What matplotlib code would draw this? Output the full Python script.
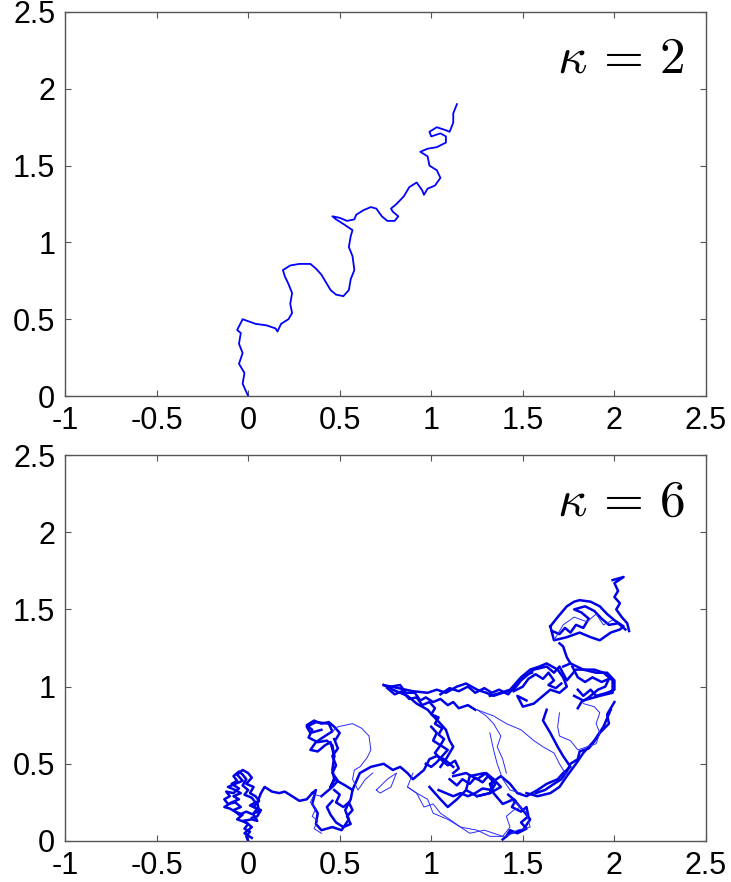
import matplotlib
matplotlib.use("Agg")
import matplotlib.pyplot as plt

# tick values and labels (matlab style)
x_ticks = [-1, -0.5, 0, 0.5, 1, 1.5, 2, 2.5]
x_labels = ['-1', '-0.5', '0', '0.5', '1', '1.5', '2', '2.5']
y_ticks = [0, 0.5, 1, 1.5, 2, 2.5]
y_labels = ['0', '0.5', '1', '1.5', '2', '2.5']

# kappa = 2 trace
k2_x = [0.00, -0.03, -0.02, -0.05, -0.03, -0.05, -0.04, -0.06, -0.03, 0.04,
        0.10, 0.15, 0.16, 0.18, 0.22, 0.24, 0.23, 0.24, 0.22, 0.20,
        0.19, 0.23, 0.28, 0.34, 0.37, 0.40, 0.43, 0.45, 0.48, 0.52,
        0.55, 0.56, 0.58, 0.57, 0.55, 0.56, 0.57, 0.52, 0.48, 0.46,
        0.50, 0.54, 0.58, 0.59, 0.63, 0.67, 0.70, 0.73, 0.76, 0.80,
        0.82, 0.79, 0.78, 0.81, 0.85, 0.88, 0.92, 0.95, 0.96, 0.98,
        1.02, 1.05, 1.03, 0.99, 0.98, 0.94, 0.98, 1.03, 1.08, 1.08,
        1.05, 1.00, 0.99, 1.03, 1.08, 1.10, 1.12, 1.12, 1.14]
k2_y = [0.00, 0.08, 0.15, 0.21, 0.28, 0.34, 0.41, 0.43, 0.50, 0.47,
        0.46, 0.44, 0.42, 0.47, 0.50, 0.54, 0.60, 0.67, 0.73, 0.78,
        0.82, 0.85, 0.86, 0.86, 0.83, 0.79, 0.73, 0.69, 0.66, 0.65,
        0.69, 0.76, 0.82, 0.91, 0.97, 1.04, 1.08, 1.12, 1.15, 1.17,
        1.16, 1.14, 1.15, 1.18, 1.21, 1.23, 1.22, 1.17, 1.14, 1.14,
        1.17, 1.20, 1.22, 1.25, 1.30, 1.36, 1.39, 1.34, 1.31, 1.35,
        1.37, 1.42, 1.47, 1.50, 1.56, 1.59, 1.61, 1.62, 1.65, 1.69,
        1.71, 1.69, 1.72, 1.75, 1.73, 1.72, 1.78, 1.84, 1.90]

# kappa = 6 trace, split in pieces (dense parts drawn thicker)
k6_left = [(0.00, 0.00), (-0.01, 0.03), (0.01, 0.06), (-0.02, 0.08), (0.00, 0.11),
           (-0.03, 0.13), (0.02, 0.14), (0.05, 0.13), (0.03, 0.17), (-0.01, 0.19),
           (-0.05, 0.17), (-0.08, 0.20), (-0.04, 0.22), (-0.07, 0.25), (-0.11, 0.24),
           (-0.13, 0.27), (-0.10, 0.29), (-0.12, 0.32), (-0.08, 0.31), (-0.05, 0.34),
           (-0.09, 0.37), (-0.06, 0.39), (-0.08, 0.42), (-0.05, 0.45), (-0.03, 0.43),
           (-0.01, 0.40), (-0.03, 0.36), (0.00, 0.33), (-0.02, 0.30), (0.02, 0.28),
           (0.04, 0.25), (0.01, 0.23), (0.05, 0.21), (0.03, 0.18), (0.06, 0.19),
           (0.05, 0.25), (0.07, 0.31), (0.09, 0.35), (0.13, 0.32), (0.17, 0.31),
           (0.20, 0.32), (0.24, 0.29), (0.28, 0.26), (0.32, 0.27), (0.35, 0.31)]
k6_left2 = [(0.02, 0.02), (-0.02, 0.05), (0.02, 0.09), (-0.01, 0.12), (-0.06, 0.14),
            (-0.03, 0.17), (-0.07, 0.19), (-0.10, 0.21), (-0.13, 0.22), (-0.09, 0.25),
            (-0.05, 0.27), (-0.08, 0.29), (-0.04, 0.31), (-0.07, 0.33), (-0.11, 0.35),
            (-0.07, 0.37), (-0.03, 0.39), (-0.06, 0.43), (-0.03, 0.46), (0.00, 0.44),
            (0.02, 0.41), (-0.01, 0.37), (0.03, 0.35), (0.01, 0.31), (0.04, 0.29),
            (0.06, 0.26), (0.03, 0.22), (0.07, 0.20), (0.05, 0.16), (0.02, 0.15)]
k6_c = [(0.35, 0.31), (0.37, 0.33), (0.35, 0.24), (0.38, 0.18), (0.37, 0.11),
        (0.40, 0.07), (0.46, 0.09), (0.51, 0.07), (0.55, 0.14), (0.53, 0.20),
        (0.56, 0.27), (0.57, 0.33), (0.53, 0.36), (0.47, 0.40), (0.45, 0.35),
        (0.47, 0.40), (0.46, 0.46), (0.47, 0.55), (0.45, 0.64), (0.42, 0.62),
        (0.38, 0.58), (0.34, 0.59), (0.37, 0.64), (0.42, 0.68), (0.46, 0.71),
        (0.44, 0.76), (0.37, 0.77), (0.32, 0.74), (0.34, 0.70), (0.40, 0.72)]
k6_c_top = [(0.47, 0.55), (0.46, 0.62), (0.43, 0.65), (0.38, 0.64), (0.33, 0.67),
            (0.35, 0.72), (0.32, 0.75), (0.36, 0.78), (0.40, 0.76), (0.44, 0.77),
            (0.47, 0.74), (0.50, 0.70), (0.48, 0.66)]
k6_c_col = [(0.47, 0.66), (0.49, 0.60), (0.46, 0.55), (0.48, 0.49), (0.46, 0.44),
            (0.49, 0.39), (0.46, 0.35), (0.43, 0.32), (0.40, 0.29)]
k6_c_low = [(0.47, 0.33), (0.50, 0.30), (0.48, 0.25), (0.52, 0.22), (0.55, 0.25),
            (0.57, 0.20), (0.54, 0.16), (0.56, 0.11), (0.52, 0.09), (0.48, 0.12),
            (0.45, 0.17), (0.43, 0.22), (0.46, 0.26)]
k6_c_thin = [(0.40, 0.29), (0.36, 0.30), (0.34, 0.25), (0.37, 0.21), (0.35, 0.16),
             (0.38, 0.13), (0.36, 0.08), (0.40, 0.05)]
k6_c_loop = [(0.46, 0.71), (0.49, 0.74), (0.57, 0.76), (0.62, 0.73), (0.66, 0.68),
             (0.67, 0.59), (0.65, 0.54), (0.61, 0.48), (0.58, 0.46), (0.57, 0.40),
             (0.60, 0.33), (0.64, 0.40), (0.68, 0.44)]
k6_strand = [(0.57, 0.33), (0.61, 0.44), (0.67, 0.48), (0.74, 0.50), (0.79, 0.46),
             (0.83, 0.48), (0.87, 0.44), (0.90, 0.40), (0.96, 0.46), (0.99, 0.53),
             (1.03, 0.55), (1.07, 0.53), (1.12, 0.48)]
k6_leaf = [(0.70, 0.33), (0.76, 0.40), (0.81, 0.44), (0.78, 0.35), (0.72, 0.31),
           (0.70, 0.33)]
k6_arm = [(0.74, 1.01), (0.79, 0.98), (0.87, 0.94), (0.92, 0.89), (0.98, 0.85),
          (1.01, 0.81), (1.05, 0.76), (1.08, 0.72), (1.10, 0.65), (1.12, 0.61),
          (1.10, 0.57), (1.08, 0.53), (1.05, 0.48)]
k6_arm2 = [(0.76, 0.99), (0.80, 0.95), (0.84, 0.97), (0.88, 0.92), (0.92, 0.93),
           (0.95, 0.88), (0.99, 0.90), (1.02, 0.86), (1.00, 0.82), (1.04, 0.80),
           (1.02, 0.76), (1.06, 0.73), (1.04, 0.69), (1.07, 0.66), (1.05, 0.62),
           (1.09, 0.59), (1.06, 0.55), (1.03, 0.51), (1.00, 0.48), (0.97, 0.50)]
k6_arm3 = [(0.78, 1.00), (0.83, 1.01), (0.86, 0.96), (0.91, 0.96), (0.94, 0.91),
           (0.97, 0.93), (1.01, 0.90), (1.05, 0.92), (1.09, 0.88), (1.12, 0.90),
           (1.15, 0.86), (1.20, 0.88), (1.24, 0.85)]
k6_center = [(1.00, 0.74), (1.03, 0.70), (1.01, 0.65), (1.05, 0.62), (1.02, 0.57),
             (1.06, 0.52), (1.09, 0.49), (1.13, 0.52), (1.15, 0.47), (1.12, 0.44)]
k6_top = [(0.74, 1.01), (0.82, 0.99), (0.90, 0.97), (0.98, 0.96), (1.03, 0.98),
          (1.08, 0.96), (1.14, 1.00), (1.19, 1.02), (1.25, 0.98), (1.30, 0.96),
          (1.34, 0.94), (1.39, 0.96), (1.45, 0.98), (1.49, 1.04), (1.56, 1.11),
          (1.63, 1.13), (1.67, 1.09), (1.70, 1.13), (1.74, 1.04), (1.79, 1.11),
          (1.89, 1.11), (1.94, 1.09), (1.99, 1.04), (1.99, 0.96), (1.92, 0.94),
          (1.83, 0.91), (1.78, 0.94)]
k6_top2 = [(1.05, 0.95), (1.10, 0.99), (1.15, 0.97), (1.20, 1.00), (1.24, 0.96),
           (1.29, 0.99), (1.33, 0.96), (1.37, 0.98), (1.42, 0.95), (1.46, 1.01),
           (1.50, 1.07), (1.55, 1.09)]
k6_low1 = [(0.87, 0.35), (0.92, 0.31), (0.96, 0.22), (1.01, 0.24), (1.05, 0.18),
           (1.10, 0.14), (1.16, 0.09), (1.21, 0.05), (1.29, 0.07), (1.34, 0.05),
           (1.39, 0.03), (1.43, 0.09), (1.41, 0.16), (1.45, 0.20), (1.49, 0.22)]
k6_low2 = [(0.90, 0.44), (0.87, 0.35), (0.92, 0.31), (0.98, 0.27), (1.01, 0.18),
           (1.09, 0.14), (1.16, 0.09), (1.25, 0.07), (1.32, 0.03), (1.41, 0.03),
           (1.47, 0.07), (1.54, 0.09), (1.52, 0.18), (1.47, 0.24), (1.43, 0.27)]
k6_low3 = [(1.42, 0.30), (1.46, 0.26), (1.44, 0.22), (1.49, 0.19), (1.52, 0.22),
           (1.53, 0.16), (1.49, 0.12), (1.52, 0.08), (1.47, 0.05), (1.43, 0.07),
           (1.41, 0.03)]
k6_mid = [(0.99, 0.35), (1.05, 0.27), (1.09, 0.22), (1.14, 0.27), (1.19, 0.33),
          (1.25, 0.29), (1.32, 0.31), (1.34, 0.40), (1.30, 0.44), (1.25, 0.40),
          (1.19, 0.44), (1.12, 0.42)]
k6_mid2 = [(1.19, 0.33), (1.21, 0.42), (1.29, 0.44), (1.34, 0.40), (1.38, 0.35),
           (1.32, 0.31), (1.25, 0.29)]
k6_mid3 = [(1.10, 0.40), (1.14, 0.36), (1.17, 0.40), (1.21, 0.37), (1.24, 0.41),
           (1.28, 0.38), (1.31, 0.42), (1.35, 0.37), (1.33, 0.33), (1.28, 0.34),
           (1.24, 0.31), (1.20, 0.29), (1.16, 0.31), (1.12, 0.29), (1.08, 0.31),
           (1.04, 0.33)]
k6_inner1 = [(1.25, 0.85), (1.34, 0.81), (1.41, 0.76), (1.49, 0.72), (1.56, 0.65),
             (1.61, 0.61), (1.67, 0.57), (1.70, 0.50), (1.74, 0.42)]
k6_inner2 = [(1.32, 0.70), (1.34, 0.59), (1.36, 0.50), (1.39, 0.40), (1.43, 0.33),
             (1.49, 0.31)]
k6_inner3 = [(1.25, 0.85), (1.30, 0.81), (1.34, 0.76), (1.38, 0.68), (1.36, 0.61),
             (1.39, 0.53), (1.41, 0.44)]
k6_down = [(1.63, 0.85), (1.61, 0.78), (1.65, 0.70), (1.69, 0.61), (1.72, 0.55),
           (1.76, 0.48), (1.72, 0.44), (1.69, 0.40), (1.63, 0.37), (1.58, 0.33),
           (1.52, 0.29), (1.47, 0.31), (1.43, 0.37), (1.38, 0.42), (1.32, 0.37),
           (1.34, 0.31), (1.39, 0.24), (1.45, 0.27), (1.50, 0.20), (1.54, 0.14),
           (1.50, 0.07), (1.43, 0.05), (1.39, 0.01)]
k6_right = [(1.98, 0.85), (1.94, 0.74), (1.89, 0.65), (1.83, 0.57), (1.79, 0.50),
            (1.74, 0.42), (1.70, 0.35), (1.65, 0.31), (1.58, 0.29), (1.52, 0.31)]
k6_right2 = [(2.00, 0.90), (1.96, 0.82), (1.97, 0.76), (1.92, 0.70), (1.90, 0.66),
             (1.86, 0.60), (1.81, 0.58), (1.80, 0.53), (1.76, 0.50), (1.74, 0.45),
             (1.71, 0.40), (1.67, 0.37), (1.62, 0.33), (1.57, 0.31)]
k6_ring = [(1.83, 0.89), (1.89, 0.87), (1.92, 0.83), (1.90, 0.76), (1.92, 0.70),
           (1.90, 0.63), (1.85, 0.61), (1.80, 0.59), (1.76, 0.65), (1.70, 0.68),
           (1.69, 0.74), (1.70, 0.83)]
k6_blob1 = [(1.32, 0.94), (1.38, 0.96), (1.43, 0.98), (1.49, 1.06), (1.54, 1.11),
            (1.59, 1.13), (1.63, 1.15), (1.69, 1.11), (1.72, 1.06), (1.74, 1.00),
            (1.70, 0.96), (1.65, 0.98), (1.61, 0.94), (1.56, 0.89), (1.50, 0.87),
            (1.47, 0.94), (1.52, 0.91)]
k6_blob1b = [(1.45, 0.97), (1.50, 1.00), (1.53, 1.05), (1.57, 1.08), (1.61, 1.05),
             (1.64, 1.09), (1.67, 1.04), (1.64, 1.01), (1.68, 0.99), (1.71, 1.02)]
k6_blob2 = [(1.76, 1.15), (1.83, 1.11), (1.90, 1.09), (1.96, 1.09), (2.00, 1.04),
            (2.00, 0.98), (1.96, 0.96), (1.90, 0.94), (1.87, 0.98), (1.83, 0.94),
            (1.80, 0.98)]
k6_blob2b = [(1.77, 1.13), (1.80, 1.06), (1.84, 1.03), (1.88, 1.06), (1.93, 1.03),
             (1.97, 1.05), (1.95, 1.00), (1.91, 0.98), (1.86, 0.93), (1.82, 0.90),
             (1.80, 0.86)]
k6_stem = [(1.70, 1.28), (1.72, 1.26), (1.74, 1.19), (1.76, 1.15), (1.72, 1.13)]
k6_crown = [(1.65, 1.39), (1.69, 1.45), (1.74, 1.52), (1.78, 1.55), (1.81, 1.56),
            (1.87, 1.55), (1.92, 1.52), (1.96, 1.47), (2.00, 1.43), (2.05, 1.39),
            (2.03, 1.37), (1.98, 1.35), (1.92, 1.30), (1.87, 1.32), (1.81, 1.35),
            (1.74, 1.32), (1.67, 1.30), (1.65, 1.39)]
k6_crown2 = [(1.67, 1.30), (1.72, 1.40), (1.78, 1.45), (1.85, 1.42), (1.90, 1.47),
             (1.94, 1.40), (1.99, 1.43)]
k6_crown3 = [(1.66, 1.36), (1.70, 1.34), (1.73, 1.38), (1.76, 1.35), (1.79, 1.40),
             (1.83, 1.38), (1.86, 1.44), (1.82, 1.48), (1.78, 1.50), (1.84, 1.52),
             (1.89, 1.49), (1.93, 1.44), (1.97, 1.40), (2.02, 1.41), (2.06, 1.37)]
k6_tip = [(2.08, 1.36), (2.07, 1.41), (2.04, 1.45), (2.01, 1.50), (2.03, 1.54),
          (2.00, 1.58), (2.02, 1.62), (2.00, 1.67), (2.05, 1.71), (1.99, 1.69)]

thick_parts = [k6_left, k6_left2, k6_c, k6_c_top, k6_c_col, k6_c_low, k6_strand,
               k6_arm, k6_arm2, k6_arm3, k6_center, k6_top, k6_top2, k6_mid,
               k6_mid2, k6_mid3, k6_low3, k6_down, k6_right, k6_right2,
               k6_blob1, k6_blob1b, k6_blob2, k6_blob2b, k6_stem, k6_crown,
               k6_crown3, k6_tip]
thin_parts = [k6_c_thin, k6_c_loop, k6_leaf, k6_low1, k6_low2, k6_inner1,
              k6_inner2, k6_inner3, k6_ring, k6_crown2]

tick_font = {'family': ['Liberation Sans', 'DejaVu Sans'], 'size': 22}
plt.rcParams['mathtext.fontset'] = 'cm'


def setup(ax, label):
  ax.set_xlim(-1, 2.5)
  ax.set_ylim(0, 2.5)
  ax.set_xticks(x_ticks)
  ax.set_xticklabels(x_labels, fontdict=tick_font)
  ax.set_yticks(y_ticks)
  ax.set_yticklabels(y_labels, fontdict=tick_font)
  ax.tick_params(direction='in', length=4, width=0.8, color='#555555',
                 top=True, right=True, pad=7)
  for s in ax.spines.values():
    s.set_color('#555555')
    s.set_linewidth(1.0)
  ax.text(0.967, 0.843, label, transform=ax.transAxes, ha='right',
          va='baseline', fontsize=37)


fig = plt.figure(figsize=(7.31, 8.82), dpi=100)
ax1 = fig.add_axes([0.0889, 0.551, 0.8769, 0.4354])
ax2 = fig.add_axes([0.0889, 0.0465, 0.8769, 0.4376])

ax1.plot(k2_x, k2_y, color='#0000ff', lw=1.3)
setup(ax1, r'$\kappa\,=\,2$')

for part in thick_parts:
  ax2.plot([p[0] for p in part], [p[1] for p in part], color='#0000e6', lw=1.8)
for part in thin_parts:
  ax2.plot([p[0] for p in part], [p[1] for p in part], color='#2a2aff', lw=0.7)
setup(ax2, r'$\kappa\,=\,6$')

plt.savefig("out.png", dpi=100, facecolor='w')
